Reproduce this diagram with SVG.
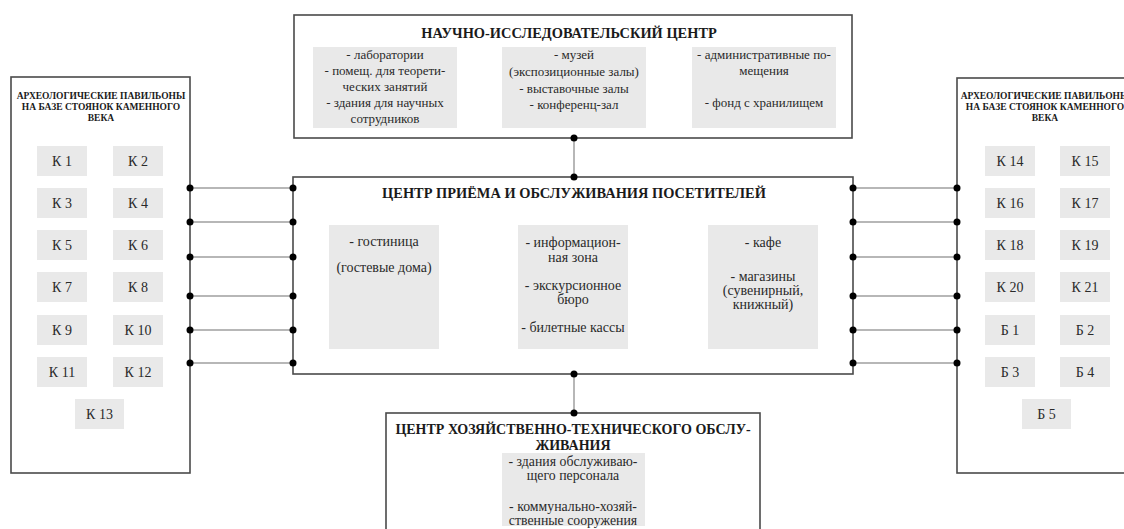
<svg xmlns="http://www.w3.org/2000/svg" width="1124" height="529" viewBox="0 0 1124 529" font-family="'Liberation Serif', 'Times New Roman', 'DejaVu Serif', serif">
<style>
.box{fill:#fff;stroke:#4a4a4a;stroke-width:1.6}
.cell{fill:#e9e9e9;stroke:none}
.t{font-family:'Liberation Serif','Times New Roman','DejaVu Serif',serif;fill:#2a2a2a;text-anchor:middle}
.h{font-weight:bold;font-size:14.4px;fill:#1a1a1a}
.h2{font-weight:bold;font-size:14px;fill:#1a1a1a}
.hs{font-weight:bold;font-size:9.5px;fill:#1a1a1a}
.s{font-size:13px}
.b{font-size:13.8px}
.m{font-size:14px}
.k{font-size:14px}
.con{stroke:#a0a0a0;stroke-width:1.5;fill:none}
.dot{fill:#000}
</style>
<rect width="1124" height="529" fill="#fff"/>

<g id="research-center">
<rect class="box" x="294" y="15" width="558" height="123"/>
<text class="t h" x="569" y="38">НАУЧНО-ИССЛЕДОВАТЕЛЬСКИЙ ЦЕНТР</text>
<rect class="cell" x="313" y="47" width="144" height="81"/>
<text class="t s" x="385" y="59">- лаборатории</text>
<text class="t s" x="385" y="75">- помещ. для теорети-</text>
<text class="t s" x="385" y="91">ческих занятий</text>
<text class="t s" x="385" y="107">- здания для научных</text>
<text class="t s" x="385" y="123">сотрудников</text>
<rect class="cell" x="502" y="47" width="144" height="81"/>
<text class="t s" x="574" y="59">- музей</text>
<text class="t s" x="574" y="76">(экспозиционные залы)</text>
<text class="t s" x="574" y="93">- выставочные залы</text>
<text class="t s" x="574" y="109">- конференц-зал</text>
<rect class="cell" x="692" y="47" width="144" height="81"/>
<text class="t s" x="764" y="59">- административные по-</text>
<text class="t s" x="764" y="75">мещения</text>
<text class="t s" x="764" y="107">- фонд с хранилищем</text>
</g>

<g id="visitor-center">
<rect class="box" x="293" y="177" width="560" height="197"/>
<text class="t h" x="574" y="198">ЦЕНТР ПРИЁМА И ОБСЛУЖИВАНИЯ ПОСЕТИТЕЛЕЙ</text>
<rect class="cell" x="329" y="225" width="110" height="124"/>
<text class="t m" x="384" y="246">- гостиница</text>
<text class="t m" x="384" y="272">(гостевые дома)</text>
<rect class="cell" x="518" y="225" width="110" height="124"/>
<text class="t m" x="573" y="247">- информацион-</text>
<text class="t m" x="573" y="262">ная зона</text>
<text class="t m" x="573" y="290">- экскурсионное</text>
<text class="t m" x="573" y="304">бюро</text>
<text class="t m" x="573" y="332">- билетные кассы</text>
<rect class="cell" x="708" y="225" width="110" height="124"/>
<text class="t m" x="763" y="247">- кафе</text>
<text class="t m" x="763" y="281">- магазины</text>
<text class="t m" x="763" y="295">(сувенирный,</text>
<text class="t m" x="763" y="309">книжный)</text>
</g>

<g id="service-center">
<rect class="box" x="386" y="413" width="374" height="130"/>
<text class="t h2" x="573" y="434">ЦЕНТР ХОЗЯЙСТВЕННО-ТЕХНИЧЕСКОГО ОБСЛУ-</text>
<text class="t h2" x="573" y="450">ЖИВАНИЯ</text>
<rect class="cell" x="502" y="453" width="143" height="73"/>
<text class="t b" x="573" y="466">- здания обслуживаю-</text>
<text class="t b" x="573" y="480">щего персонала</text>
<text class="t b" x="573" y="511">- коммунально-хозяй-</text>
<text class="t b" x="573" y="525">ственные сооружения</text>
</g>

<g id="pavilions-left">
<rect class="box" x="11" y="77" width="179" height="396"/>
<text class="t hs" x="101" y="99">АРХЕОЛОГИЧЕСКИЕ ПАВИЛЬОНЫ</text>
<text class="t hs" x="101" y="110">НА БАЗЕ СТОЯНОК КАМЕННОГО</text>
<text class="t hs" x="101" y="121">ВЕКА</text>
<g class="cell">
<rect x="37" y="146" width="50" height="30"/><rect x="113" y="146" width="50" height="30"/>
<rect x="37" y="188" width="50" height="30"/><rect x="113" y="188" width="50" height="30"/>
<rect x="37" y="230" width="50" height="30"/><rect x="113" y="230" width="50" height="30"/>
<rect x="37" y="272" width="50" height="30"/><rect x="113" y="272" width="50" height="30"/>
<rect x="37" y="315" width="50" height="30"/><rect x="113" y="315" width="50" height="30"/>
<rect x="37" y="357" width="50" height="30"/><rect x="113" y="357" width="50" height="30"/>
<rect x="75" y="399" width="49" height="30"/>
</g>
<text class="t k" x="62" y="166">К 1</text><text class="t k" x="138" y="166">К 2</text>
<text class="t k" x="62" y="208">К 3</text><text class="t k" x="138" y="208">К 4</text>
<text class="t k" x="62" y="250">К 5</text><text class="t k" x="138" y="250">К 6</text>
<text class="t k" x="62" y="292">К 7</text><text class="t k" x="138" y="292">К 8</text>
<text class="t k" x="62" y="335">К 9</text><text class="t k" x="138" y="335">К 10</text>
<text class="t k" x="62" y="377">К 11</text><text class="t k" x="138" y="377">К 12</text>
<text class="t k" x="99.5" y="419">К 13</text>
</g>

<g id="pavilions-right">
<rect class="box" x="957" y="78" width="180" height="395"/>
<text class="t hs" x="1045" y="99">АРХЕОЛОГИЧЕСКИЕ ПАВИЛЬОНЫ</text>
<text class="t hs" x="1045" y="110">НА БАЗЕ СТОЯНОК КАМЕННОГО</text>
<text class="t hs" x="1045" y="121">ВЕКА</text>
<g class="cell">
<rect x="985" y="146" width="50" height="30"/><rect x="1060" y="146" width="50" height="30"/>
<rect x="985" y="188" width="50" height="30"/><rect x="1060" y="188" width="50" height="30"/>
<rect x="985" y="230" width="50" height="30"/><rect x="1060" y="230" width="50" height="30"/>
<rect x="985" y="272" width="50" height="30"/><rect x="1060" y="272" width="50" height="30"/>
<rect x="985" y="315" width="50" height="30"/><rect x="1060" y="315" width="50" height="30"/>
<rect x="985" y="357" width="50" height="30"/><rect x="1060" y="357" width="50" height="30"/>
<rect x="1022" y="399" width="49" height="30"/>
</g>
<text class="t k" x="1010" y="166">К 14</text><text class="t k" x="1085" y="166">К 15</text>
<text class="t k" x="1010" y="208">К 16</text><text class="t k" x="1085" y="208">К 17</text>
<text class="t k" x="1010" y="250">К 18</text><text class="t k" x="1085" y="250">К 19</text>
<text class="t k" x="1010" y="292">К 20</text><text class="t k" x="1085" y="292">К 21</text>
<text class="t k" x="1010" y="335">Б 1</text><text class="t k" x="1085" y="335">Б 2</text>
<text class="t k" x="1010" y="377">Б 3</text><text class="t k" x="1085" y="377">Б 4</text>
<text class="t k" x="1046.5" y="419">Б 5</text>
</g>

<g id="connectors">
<path class="con" d="M574 138V177M574 374V413"/>
<path class="con" d="M190 188H293M190 222H293M190 257H293M190 296H293M190 330H293M190 363H293"/>
<path class="con" d="M853 188H957M853 222H957M853 257H957M853 296H957M853 330H957M853 363H957"/>
<g class="dot">
<circle cx="574" cy="138" r="3.5"/><circle cx="574" cy="177" r="3.5"/>
<circle cx="574" cy="374" r="3.5"/><circle cx="574" cy="413" r="3.5"/>
<circle cx="190" cy="188" r="3.5"/><circle cx="293" cy="188" r="3.5"/>
<circle cx="190" cy="222" r="3.5"/><circle cx="293" cy="222" r="3.5"/>
<circle cx="190" cy="257" r="3.5"/><circle cx="293" cy="257" r="3.5"/>
<circle cx="190" cy="296" r="3.5"/><circle cx="293" cy="296" r="3.5"/>
<circle cx="190" cy="330" r="3.5"/><circle cx="293" cy="330" r="3.5"/>
<circle cx="190" cy="363" r="3.5"/><circle cx="293" cy="363" r="3.5"/>
<circle cx="853" cy="188" r="3.5"/><circle cx="957" cy="188" r="3.5"/>
<circle cx="853" cy="222" r="3.5"/><circle cx="957" cy="222" r="3.5"/>
<circle cx="853" cy="257" r="3.5"/><circle cx="957" cy="257" r="3.5"/>
<circle cx="853" cy="296" r="3.5"/><circle cx="957" cy="296" r="3.5"/>
<circle cx="853" cy="330" r="3.5"/><circle cx="957" cy="330" r="3.5"/>
<circle cx="853" cy="363" r="3.5"/><circle cx="957" cy="363" r="3.5"/>
</g>
</g>
</svg>
